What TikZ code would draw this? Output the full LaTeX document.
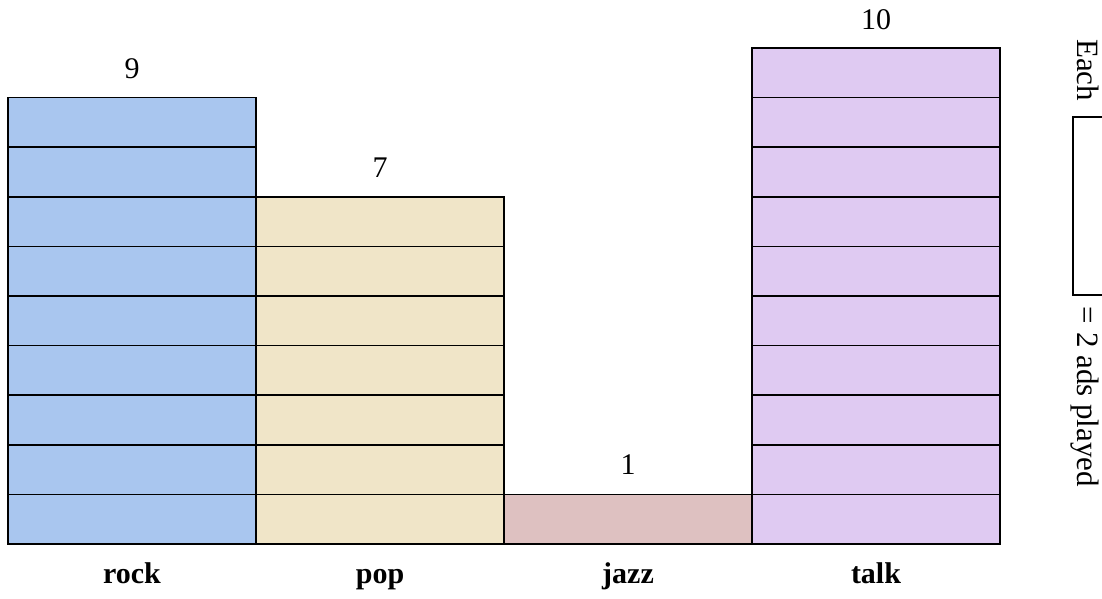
\documentclass[tikz,border=0pt]{standalone}
\usepackage{fontspec}
\setmainfont{Liberation Serif}
\definecolor{rockblue}{HTML}{A9C6EF}
\definecolor{popbeige}{HTML}{F0E5C8}
\definecolor{jazzrose}{HTML}{DEC1C1}
\definecolor{talklilac}{HTML}{DFCAF2}
\tikzset{
  count/.style={anchor=base,font=\fontsize{30}{36}\selectfont},
  genre/.style={anchor=base,font=\fontsize{30}{36}\selectfont\bfseries},
  keytext/.style={rotate=-90,inner sep=0pt,font=\fontsize{31}{36}\selectfont}
}
\begin{document}
\begin{tikzpicture}[x=1pt,y=-1pt,line width=1.6pt]
\useasboundingbox (0,0) rectangle (1102,598);
%bars, one box per 2 ads
\draw [fill=rockblue] \foreach \y in {0,...,8} {(8,{544-49.6*\y}) rectangle (256,{494.4-49.6*\y})};
\draw [fill=popbeige] \foreach \y in {0,...,6} {(256,{544-49.6*\y}) rectangle (504,{494.4-49.6*\y})};
\draw [fill=jazzrose] (504,544) rectangle (752,494.4);
\draw [fill=talklilac] \foreach \y in {0,...,9} {(752,{544-49.6*\y}) rectangle (1000,{494.4-49.6*\y})};
%counts
\node[count] (rockcount) at (132,78) {9};
\node[count] (popcount) at (380,177) {7};
\node[count] (jazzcount) at (628,474) {1};
\node[count] (talkcount) at (876,29) {10};
%genres
\node[genre] (rock) at (132,583) {rock};
\node[genre] (pop) at (380,583) {pop};
\node[genre] (jazz) at (628,583) {jazz};
\node[genre] (talk) at (876,583) {talk};
%key
\node[keytext,anchor=base east] (each) at (1077,102) {Each};
\draw (1102,117) -- (1073,117) -- (1073,295) -- (1102,295);
\node[keytext,anchor=base west] (played) at (1077,306) {= 2 ads played};
\end{tikzpicture}
\end{document}
